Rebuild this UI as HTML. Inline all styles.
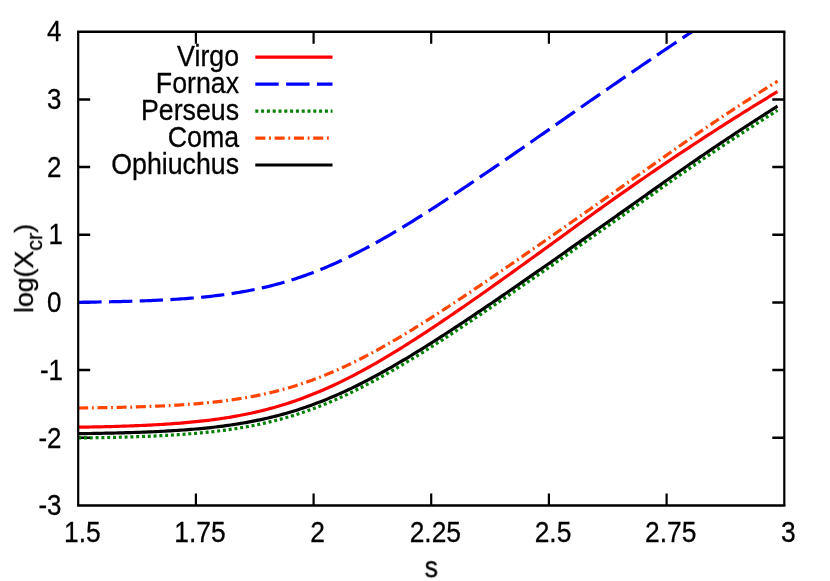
<!DOCTYPE html>
<html><head><meta charset="utf-8"><title>log(Xcr) vs s</title>
<style>
html,body{margin:0;padding:0;background:#fff;}
body{width:830px;height:581px;overflow:hidden;}
svg{display:block;transform:translateZ(0);will-change:transform;}
.t{filter:grayscale(1);}
text{font-family:"Liberation Sans",sans-serif;font-size:29.3px;fill:#000;stroke:#000;stroke-width:0.3px;}
.c{fill:none;stroke-width:3.2;stroke-linecap:butt;stroke-linejoin:round;}
</style></head><body>
<svg width="830" height="581" viewBox="0 0 830 581">
<rect width="830" height="581" fill="#fff"/>

<path d="M195.9,505.5 v-12 M195.9,31.7 v12 M313.6,505.5 v-12 M313.6,31.7 v12 M431.2,505.5 v-12 M431.2,31.7 v12 M548.9,505.5 v-12 M548.9,31.7 v12 M666.6,505.5 v-12 M666.6,31.7 v12" fill="none" stroke="#000" stroke-width="2.2"/>
<path d="M78.2,99.4 h12 M784.3,99.4 h-12 M78.2,167.1 h12 M784.3,167.1 h-12 M78.2,234.8 h12 M784.3,234.8 h-12 M78.2,302.4 h12 M784.3,302.4 h-12 M78.2,370.1 h12 M784.3,370.1 h-12 M78.2,437.8 h12 M784.3,437.8 h-12" fill="none" stroke="#000" stroke-width="2.5"/>
<defs><clipPath id="cp"><rect x="78.2" y="31.7" width="706.1" height="473.8"/></clipPath></defs>
<g clip-path="url(#cp)">
<path class="c" stroke="#ff0000" d="M78.2,427.22 L80.7,427.18 L83.2,427.13 L85.7,427.09 L88.2,427.05 L90.7,427.00 L93.2,426.95 L95.7,426.90 L98.2,426.85 L100.7,426.79 L103.2,426.73 L105.7,426.67 L108.2,426.61 L110.7,426.55 L113.2,426.48 L115.7,426.41 L118.2,426.33 L120.7,426.26 L123.2,426.18 L125.7,426.09 L128.2,426.01 L130.7,425.91 L133.2,425.82 L135.7,425.72 L138.2,425.62 L140.7,425.51 L143.2,425.40 L145.7,425.29 L148.2,425.17 L150.7,425.04 L153.2,424.91 L155.7,424.77 L158.2,424.63 L160.7,424.49 L163.2,424.33 L165.7,424.17 L168.2,424.01 L170.7,423.84 L173.2,423.66 L175.7,423.47 L178.2,423.28 L180.7,423.08 L183.2,422.87 L185.7,422.66 L188.2,422.43 L190.7,422.20 L193.2,421.96 L195.7,421.71 L198.2,421.45 L200.7,421.18 L203.2,420.90 L205.7,420.60 L208.2,420.30 L210.7,419.99 L213.2,419.67 L215.7,419.33 L218.2,418.99 L220.7,418.63 L223.2,418.26 L225.7,417.87 L228.2,417.47 L230.7,417.06 L233.2,416.64 L235.7,416.20 L238.2,415.74 L240.7,415.28 L243.2,414.79 L245.7,414.29 L248.2,413.78 L250.7,413.25 L253.2,412.70 L255.7,412.14 L258.2,411.56 L260.7,410.96 L263.2,410.34 L265.7,409.71 L268.2,409.06 L270.7,408.39 L273.2,407.70 L275.7,407.00 L278.2,406.27 L280.7,405.53 L283.2,404.77 L285.7,403.99 L288.2,403.19 L290.7,402.37 L293.2,401.53 L295.7,400.67 L298.2,399.79 L300.7,398.89 L303.2,397.97 L305.7,397.03 L308.2,396.07 L310.7,395.10 L313.2,394.10 L315.7,393.08 L318.2,392.05 L320.7,390.99 L323.2,389.92 L325.7,388.82 L328.2,387.71 L330.7,386.58 L333.2,385.43 L335.7,384.26 L338.2,383.07 L340.7,381.87 L343.2,380.65 L345.7,379.41 L348.2,378.15 L350.7,376.88 L353.2,375.59 L355.7,374.28 L358.2,372.96 L360.7,371.62 L363.2,370.26 L365.7,368.89 L368.2,367.51 L370.7,366.11 L373.2,364.70 L375.7,363.27 L378.2,361.83 L380.7,360.38 L383.2,358.91 L385.7,357.43 L388.2,355.94 L390.7,354.44 L393.2,352.92 L395.7,351.40 L398.2,349.86 L400.7,348.31 L403.2,346.75 L405.7,345.19 L408.2,343.61 L410.7,342.02 L413.2,340.42 L415.7,338.82 L418.2,337.20 L420.7,335.58 L423.2,333.95 L425.7,332.31 L428.2,330.67 L430.7,329.01 L433.2,327.35 L435.7,325.68 L438.2,324.01 L440.7,322.33 L443.2,320.64 L445.7,318.95 L448.2,317.25 L450.7,315.55 L453.2,313.84 L455.7,312.13 L458.2,310.41 L460.7,308.69 L463.2,306.96 L465.7,305.22 L468.2,303.49 L470.7,301.75 L473.2,300.00 L475.7,298.25 L478.2,296.50 L480.7,294.74 L483.2,292.99 L485.7,291.22 L488.2,289.46 L490.7,287.69 L493.2,285.92 L495.7,284.14 L498.2,282.37 L500.7,280.59 L503.2,278.81 L505.7,277.02 L508.2,275.23 L510.7,273.45 L513.2,271.65 L515.7,269.86 L518.2,268.07 L520.7,266.27 L523.2,264.47 L525.7,262.67 L528.2,260.87 L530.7,259.07 L533.2,257.26 L535.7,255.46 L538.2,253.65 L540.7,251.84 L543.2,250.03 L545.7,248.22 L548.2,246.41 L550.7,244.59 L553.2,242.78 L555.7,240.96 L558.2,239.14 L560.7,237.33 L563.2,235.51 L565.7,233.69 L568.2,231.87 L570.7,230.05 L573.2,228.22 L575.7,226.40 L578.2,224.58 L580.7,222.76 L583.2,220.94 L585.7,219.13 L588.2,217.32 L590.7,215.51 L593.2,213.71 L595.7,211.91 L598.2,210.12 L600.7,208.33 L603.2,206.54 L605.7,204.76 L608.2,202.98 L610.7,201.20 L613.2,199.43 L615.7,197.66 L618.2,195.89 L620.7,194.13 L623.2,192.38 L625.7,190.62 L628.2,188.87 L630.7,187.13 L633.2,185.38 L635.7,183.65 L638.2,181.91 L640.7,180.18 L643.2,178.45 L645.7,176.73 L648.2,175.01 L650.7,173.30 L653.2,171.59 L655.7,169.88 L658.2,168.18 L660.7,166.48 L663.2,164.78 L665.7,163.09 L668.2,161.40 L670.7,159.72 L673.2,158.04 L675.7,156.37 L678.2,154.70 L680.7,153.03 L683.2,151.37 L685.7,149.71 L688.2,148.05 L690.7,146.40 L693.2,144.75 L695.7,143.11 L698.2,141.47 L700.7,139.84 L703.2,138.21 L705.7,136.58 L708.2,134.96 L710.7,133.34 L713.2,131.73 L715.7,130.12 L718.2,128.51 L720.7,126.91 L723.2,125.31 L725.7,123.71 L728.2,122.12 L730.7,120.54 L733.2,118.96 L735.7,117.38 L738.2,115.81 L740.7,114.24 L743.2,112.67 L745.7,111.11 L748.2,109.55 L750.7,108.00 L753.2,106.45 L755.7,104.91 L758.2,103.36 L760.7,101.83 L763.2,100.30 L765.7,98.77 L768.2,97.24 L770.7,95.72 L773.2,94.21 L775.7,92.69 L777.5,91.61"/>
<path class="c" stroke="#0000ff" stroke-dasharray="23.4 7.35" d="M78.2,302.28 L80.7,302.25 L83.2,302.22 L85.7,302.19 L88.2,302.15 L90.7,302.12 L93.2,302.08 L95.7,302.04 L98.2,302.00 L100.7,301.96 L103.2,301.91 L105.7,301.86 L108.2,301.82 L110.7,301.76 L113.2,301.71 L115.7,301.66 L118.2,301.60 L120.7,301.54 L123.2,301.47 L125.7,301.41 L128.2,301.34 L130.7,301.26 L133.2,301.19 L135.7,301.11 L138.2,301.03 L140.7,300.94 L143.2,300.85 L145.7,300.76 L148.2,300.66 L150.7,300.56 L153.2,300.45 L155.7,300.34 L158.2,300.22 L160.7,300.10 L163.2,299.98 L165.7,299.85 L168.2,299.71 L170.7,299.57 L173.2,299.42 L175.7,299.26 L178.2,299.10 L180.7,298.93 L183.2,298.76 L185.7,298.57 L188.2,298.38 L190.7,298.19 L193.2,297.98 L195.7,297.76 L198.2,297.54 L200.7,297.31 L203.2,297.07 L205.7,296.82 L208.2,296.56 L210.7,296.29 L213.2,296.00 L215.7,295.71 L218.2,295.41 L220.7,295.09 L223.2,294.77 L225.7,294.43 L228.2,294.08 L230.7,293.71 L233.2,293.33 L235.7,292.94 L238.2,292.54 L240.7,292.12 L243.2,291.69 L245.7,291.24 L248.2,290.77 L250.7,290.29 L253.2,289.80 L255.7,289.29 L258.2,288.76 L260.7,288.21 L263.2,287.65 L265.7,287.07 L268.2,286.47 L270.7,285.86 L273.2,285.22 L275.7,284.57 L278.2,283.90 L280.7,283.21 L283.2,282.50 L285.7,281.78 L288.2,281.03 L290.7,280.26 L293.2,279.48 L295.7,278.67 L298.2,277.84 L300.7,277.00 L303.2,276.13 L305.7,275.25 L308.2,274.34 L310.7,273.42 L313.2,272.47 L315.7,271.51 L318.2,270.52 L320.7,269.52 L323.2,268.49 L325.7,267.45 L328.2,266.39 L330.7,265.31 L333.2,264.21 L335.7,263.09 L338.2,261.95 L340.7,260.80 L343.2,259.62 L345.7,258.43 L348.2,257.22 L350.7,256.00 L353.2,254.76 L355.7,253.50 L358.2,252.23 L360.7,250.94 L363.2,249.63 L365.7,248.31 L368.2,246.97 L370.7,245.62 L373.2,244.26 L375.7,242.88 L378.2,241.49 L380.7,240.08 L383.2,238.67 L385.7,237.24 L388.2,235.79 L390.7,234.34 L393.2,232.87 L395.7,231.40 L398.2,229.91 L400.7,228.41 L403.2,226.91 L405.7,225.39 L408.2,223.86 L410.7,222.33 L413.2,220.78 L415.7,219.23 L418.2,217.67 L420.7,216.10 L423.2,214.52 L425.7,212.93 L428.2,211.34 L430.7,209.74 L433.2,208.14 L435.7,206.53 L438.2,204.91 L440.7,203.28 L443.2,201.65 L445.7,200.02 L448.2,198.38 L450.7,196.73 L453.2,195.08 L455.7,193.42 L458.2,191.76 L460.7,190.10 L463.2,188.43 L465.7,186.76 L468.2,185.08 L470.7,183.40 L473.2,181.72 L475.7,180.03 L478.2,178.34 L480.7,176.64 L483.2,174.95 L485.7,173.25 L488.2,171.54 L490.7,169.84 L493.2,168.13 L495.7,166.42 L498.2,164.71 L500.7,162.99 L503.2,161.28 L505.7,159.56 L508.2,157.84 L510.7,156.11 L513.2,154.39 L515.7,152.66 L518.2,150.93 L520.7,149.20 L523.2,147.47 L525.7,145.74 L528.2,144.00 L530.7,142.27 L533.2,140.53 L535.7,138.79 L538.2,137.05 L540.7,135.31 L543.2,133.57 L545.7,131.83 L548.2,130.08 L550.7,128.34 L553.2,126.59 L555.7,124.85 L558.2,123.11 L560.7,121.37 L563.2,119.62 L565.7,117.88 L568.2,116.14 L570.7,114.41 L573.2,112.67 L575.7,110.93 L578.2,109.20 L580.7,107.47 L583.2,105.73 L585.7,104.00 L588.2,102.27 L590.7,100.54 L593.2,98.81 L595.7,97.09 L598.2,95.36 L600.7,93.64 L603.2,91.92 L605.7,90.20 L608.2,88.48 L610.7,86.76 L613.2,85.04 L615.7,83.33 L618.2,81.61 L620.7,79.90 L623.2,78.19 L625.7,76.48 L628.2,74.77 L630.7,73.06 L633.2,71.36 L635.7,69.66 L638.2,67.95 L640.7,66.25 L643.2,64.55 L645.7,62.86 L648.2,61.16 L650.7,59.47 L653.2,57.77 L655.7,56.08 L658.2,54.39 L660.7,52.70 L663.2,51.02 L665.7,49.33 L668.2,47.65 L670.7,45.97 L673.2,44.29 L675.7,42.61 L678.2,40.93 L680.7,39.25 L683.2,37.58 L685.7,35.91 L688.2,34.24 L690.7,32.57 L693.2,30.90 L695.7,29.24 L698.2,27.57 L700.0,26.38"/>
<path class="c" stroke="#008000" stroke-dasharray="3 2.8" d="M78.2,437.97 L80.7,437.94 L83.2,437.90 L85.7,437.87 L88.2,437.83 L90.7,437.79 L93.2,437.75 L95.7,437.71 L98.2,437.67 L100.7,437.62 L103.2,437.58 L105.7,437.53 L108.2,437.48 L110.7,437.42 L113.2,437.37 L115.7,437.31 L118.2,437.25 L120.7,437.18 L123.2,437.12 L125.7,437.05 L128.2,436.98 L130.7,436.90 L133.2,436.82 L135.7,436.74 L138.2,436.65 L140.7,436.57 L143.2,436.47 L145.7,436.38 L148.2,436.28 L150.7,436.17 L153.2,436.06 L155.7,435.95 L158.2,435.83 L160.7,435.71 L163.2,435.58 L165.7,435.44 L168.2,435.31 L170.7,435.16 L173.2,435.01 L175.7,434.85 L178.2,434.69 L180.7,434.52 L183.2,434.34 L185.7,434.16 L188.2,433.97 L190.7,433.77 L193.2,433.56 L195.7,433.35 L198.2,433.13 L200.7,432.90 L203.2,432.65 L205.7,432.41 L208.2,432.15 L210.7,431.88 L213.2,431.60 L215.7,431.31 L218.2,431.01 L220.7,430.70 L223.2,430.38 L225.7,430.04 L228.2,429.70 L230.7,429.34 L233.2,428.97 L235.7,428.58 L238.2,428.19 L240.7,427.78 L243.2,427.35 L245.7,426.91 L248.2,426.46 L250.7,425.99 L253.2,425.51 L255.7,425.01 L258.2,424.49 L260.7,423.96 L263.2,423.42 L265.7,422.85 L268.2,422.27 L270.7,421.67 L273.2,421.06 L275.7,420.43 L278.2,419.78 L280.7,419.11 L283.2,418.42 L285.7,417.72 L288.2,416.99 L290.7,416.25 L293.2,415.49 L295.7,414.71 L298.2,413.91 L300.7,413.09 L303.2,412.25 L305.7,411.39 L308.2,410.52 L310.7,409.62 L313.2,408.71 L315.7,407.77 L318.2,406.82 L320.7,405.85 L323.2,404.85 L325.7,403.84 L328.2,402.81 L330.7,401.76 L333.2,400.70 L335.7,399.61 L338.2,398.51 L340.7,397.39 L343.2,396.25 L345.7,395.09 L348.2,393.91 L350.7,392.72 L353.2,391.51 L355.7,390.29 L358.2,389.05 L360.7,387.79 L363.2,386.51 L365.7,385.22 L368.2,383.92 L370.7,382.60 L373.2,381.27 L375.7,379.92 L378.2,378.56 L380.7,377.18 L383.2,375.79 L385.7,374.39 L388.2,372.97 L390.7,371.55 L393.2,370.11 L395.7,368.66 L398.2,367.20 L400.7,365.72 L403.2,364.24 L405.7,362.74 L408.2,361.24 L410.7,359.73 L413.2,358.20 L415.7,356.67 L418.2,355.13 L420.7,353.58 L423.2,352.02 L425.7,350.45 L428.2,348.88 L430.7,347.29 L433.2,345.70 L435.7,344.11 L438.2,342.50 L440.7,340.89 L443.2,339.28 L445.7,337.65 L448.2,336.02 L450.7,334.39 L453.2,332.75 L455.7,331.11 L458.2,329.46 L460.7,327.80 L463.2,326.14 L465.7,324.48 L468.2,322.81 L470.7,321.13 L473.2,319.46 L475.7,317.78 L478.2,316.09 L480.7,314.40 L483.2,312.71 L485.7,311.01 L488.2,309.32 L490.7,307.61 L493.2,305.91 L495.7,304.20 L498.2,302.49 L500.7,300.78 L503.2,299.06 L505.7,297.35 L508.2,295.63 L510.7,293.90 L513.2,292.18 L515.7,290.45 L518.2,288.72 L520.7,286.99 L523.2,285.26 L525.7,283.53 L528.2,281.79 L530.7,280.06 L533.2,278.32 L535.7,276.58 L538.2,274.83 L540.7,273.09 L543.2,271.35 L545.7,269.60 L548.2,267.86 L550.7,266.11 L553.2,264.36 L555.7,262.61 L558.2,260.86 L560.7,259.11 L563.2,257.35 L565.7,255.60 L568.2,253.84 L570.7,252.09 L573.2,250.33 L575.7,248.58 L578.2,246.82 L580.7,245.06 L583.2,243.30 L585.7,241.54 L588.2,239.78 L590.7,238.02 L593.2,236.26 L595.7,234.50 L598.2,232.73 L600.7,230.97 L603.2,229.21 L605.7,227.44 L608.2,225.68 L610.7,223.91 L613.2,222.15 L615.7,220.38 L618.2,218.62 L620.7,216.85 L623.2,215.08 L625.7,213.32 L628.2,211.55 L630.7,209.78 L633.2,208.01 L635.7,206.25 L638.2,204.48 L640.7,202.71 L643.2,200.94 L645.7,199.17 L648.2,197.40 L650.7,195.63 L653.2,193.86 L655.7,192.09 L658.2,190.32 L660.7,188.55 L663.2,186.79 L665.7,185.02 L668.2,183.26 L670.7,181.51 L673.2,179.76 L675.7,178.01 L678.2,176.27 L680.7,174.53 L683.2,172.79 L685.7,171.06 L688.2,169.33 L690.7,167.61 L693.2,165.89 L695.7,164.18 L698.2,162.46 L700.7,160.76 L703.2,159.05 L705.7,157.35 L708.2,155.66 L710.7,153.97 L713.2,152.28 L715.7,150.60 L718.2,148.92 L720.7,147.25 L723.2,145.58 L725.7,143.91 L728.2,142.25 L730.7,140.59 L733.2,138.94 L735.7,137.29 L738.2,135.64 L740.7,134.00 L743.2,132.36 L745.7,130.73 L748.2,129.10 L750.7,127.47 L753.2,125.85 L755.7,124.23 L758.2,122.62 L760.7,121.01 L763.2,119.41 L765.7,117.81 L768.2,116.21 L770.7,114.62 L773.2,113.03 L775.7,111.44 L777.5,110.31"/>
<path class="c" stroke="#ff4500" stroke-dasharray="10 3.7 1.82 3.7" d="M78.2,408.02 L80.7,407.99 L83.2,407.96 L85.7,407.93 L88.2,407.90 L90.7,407.87 L93.2,407.83 L95.7,407.79 L98.2,407.76 L100.7,407.72 L103.2,407.67 L105.7,407.63 L108.2,407.58 L110.7,407.54 L113.2,407.49 L115.7,407.44 L118.2,407.38 L120.7,407.32 L123.2,407.27 L125.7,407.20 L128.2,407.14 L130.7,407.07 L133.2,407.00 L135.7,406.93 L138.2,406.85 L140.7,406.77 L143.2,406.69 L145.7,406.60 L148.2,406.51 L150.7,406.41 L153.2,406.31 L155.7,406.21 L158.2,406.10 L160.7,405.99 L163.2,405.87 L165.7,405.75 L168.2,405.62 L170.7,405.49 L173.2,405.35 L175.7,405.20 L178.2,405.05 L180.7,404.90 L183.2,404.73 L185.7,404.56 L188.2,404.38 L190.7,404.20 L193.2,404.01 L195.7,403.80 L198.2,403.60 L200.7,403.38 L203.2,403.15 L205.7,402.92 L208.2,402.67 L210.7,402.42 L213.2,402.16 L215.7,401.88 L218.2,401.60 L220.7,401.30 L223.2,400.99 L225.7,400.67 L228.2,400.34 L230.7,400.00 L233.2,399.65 L235.7,399.28 L238.2,398.90 L240.7,398.50 L243.2,398.09 L245.7,397.67 L248.2,397.23 L250.7,396.77 L253.2,396.31 L255.7,395.82 L258.2,395.32 L260.7,394.80 L263.2,394.27 L265.7,393.72 L268.2,393.15 L270.7,392.57 L273.2,391.96 L275.7,391.34 L278.2,390.70 L280.7,390.04 L283.2,389.37 L285.7,388.67 L288.2,387.96 L290.7,387.22 L293.2,386.47 L295.7,385.70 L298.2,384.90 L300.7,384.09 L303.2,383.26 L305.7,382.41 L308.2,381.54 L310.7,380.64 L313.2,379.73 L315.7,378.80 L318.2,377.85 L320.7,376.88 L323.2,375.89 L325.7,374.88 L328.2,373.85 L330.7,372.80 L333.2,371.73 L335.7,370.64 L338.2,369.53 L340.7,368.41 L343.2,367.27 L345.7,366.10 L348.2,364.92 L350.7,363.73 L353.2,362.51 L355.7,361.28 L358.2,360.03 L360.7,358.77 L363.2,357.49 L365.7,356.19 L368.2,354.88 L370.7,353.56 L373.2,352.21 L375.7,350.86 L378.2,349.49 L380.7,348.10 L383.2,346.71 L385.7,345.30 L388.2,343.87 L390.7,342.44 L393.2,340.99 L395.7,339.53 L398.2,338.06 L400.7,336.58 L403.2,335.09 L405.7,333.59 L408.2,332.07 L410.7,330.55 L413.2,329.02 L415.7,327.48 L418.2,325.93 L420.7,324.37 L423.2,322.80 L425.7,321.23 L428.2,319.65 L430.7,318.06 L433.2,316.46 L435.7,314.86 L438.2,313.25 L440.7,311.63 L443.2,310.01 L445.7,308.38 L448.2,306.75 L450.7,305.11 L453.2,303.46 L455.7,301.81 L458.2,300.16 L460.7,298.50 L463.2,296.83 L465.7,295.16 L468.2,293.49 L470.7,291.81 L473.2,290.13 L475.7,288.45 L478.2,286.76 L480.7,285.07 L483.2,283.37 L485.7,281.68 L488.2,279.97 L490.7,278.27 L493.2,276.56 L495.7,274.86 L498.2,273.14 L500.7,271.43 L503.2,269.71 L505.7,267.99 L508.2,266.27 L510.7,264.55 L513.2,262.83 L515.7,261.10 L518.2,259.37 L520.7,257.64 L523.2,255.91 L525.7,254.17 L528.2,252.44 L530.7,250.70 L533.2,248.96 L535.7,247.22 L538.2,245.48 L540.7,243.74 L543.2,242.00 L545.7,240.25 L548.2,238.51 L550.7,236.76 L553.2,235.01 L555.7,233.27 L558.2,231.52 L560.7,229.77 L563.2,228.02 L565.7,226.26 L568.2,224.51 L570.7,222.76 L573.2,221.00 L575.7,219.25 L578.2,217.50 L580.7,215.74 L583.2,213.98 L585.7,212.23 L588.2,210.47 L590.7,208.71 L593.2,206.95 L595.7,205.19 L598.2,203.43 L600.7,201.67 L603.2,199.91 L605.7,198.15 L608.2,196.39 L610.7,194.63 L613.2,192.87 L615.7,191.11 L618.2,189.35 L620.7,187.58 L623.2,185.82 L625.7,184.06 L628.2,182.29 L630.7,180.53 L633.2,178.77 L635.7,177.00 L638.2,175.24 L640.7,173.47 L643.2,171.71 L645.7,169.94 L648.2,168.18 L650.7,166.41 L653.2,164.65 L655.7,162.88 L658.2,161.12 L660.7,159.35 L663.2,157.58 L665.7,155.82 L668.2,154.05 L670.7,152.29 L673.2,150.52 L675.7,148.76 L678.2,147.00 L680.7,145.24 L683.2,143.49 L685.7,141.75 L688.2,140.01 L690.7,138.28 L693.2,136.55 L695.7,134.83 L698.2,133.11 L700.7,131.40 L703.2,129.69 L705.7,127.98 L708.2,126.28 L710.7,124.59 L713.2,122.90 L715.7,121.22 L718.2,119.54 L720.7,117.87 L723.2,116.20 L725.7,114.53 L728.2,112.88 L730.7,111.22 L733.2,109.57 L735.7,107.93 L738.2,106.29 L740.7,104.66 L743.2,103.03 L745.7,101.41 L748.2,99.79 L750.7,98.18 L753.2,96.57 L755.7,94.97 L758.2,93.37 L760.7,91.77 L763.2,90.19 L765.7,88.60 L768.2,87.03 L770.7,85.45 L773.2,83.88 L775.7,82.32 L777.5,81.20"/>
<path class="c" stroke="#000000" d="M78.2,433.66 L80.7,433.62 L83.2,433.59 L85.7,433.55 L88.2,433.52 L90.7,433.48 L93.2,433.44 L95.7,433.40 L98.2,433.35 L100.7,433.31 L103.2,433.26 L105.7,433.21 L108.2,433.16 L110.7,433.10 L113.2,433.04 L115.7,432.99 L118.2,432.92 L120.7,432.86 L123.2,432.79 L125.7,432.72 L128.2,432.65 L130.7,432.57 L133.2,432.49 L135.7,432.41 L138.2,432.33 L140.7,432.24 L143.2,432.14 L145.7,432.05 L148.2,431.94 L150.7,431.84 L153.2,431.73 L155.7,431.62 L158.2,431.50 L160.7,431.37 L163.2,431.24 L165.7,431.11 L168.2,430.97 L170.7,430.82 L173.2,430.67 L175.7,430.51 L178.2,430.35 L180.7,430.18 L183.2,430.00 L185.7,429.82 L188.2,429.63 L190.7,429.43 L193.2,429.22 L195.7,429.01 L198.2,428.79 L200.7,428.55 L203.2,428.31 L205.7,428.06 L208.2,427.81 L210.7,427.54 L213.2,427.26 L215.7,426.97 L218.2,426.67 L220.7,426.36 L223.2,426.04 L225.7,425.70 L228.2,425.36 L230.7,425.00 L233.2,424.63 L235.7,424.25 L238.2,423.85 L240.7,423.45 L243.2,423.02 L245.7,422.59 L248.2,422.13 L250.7,421.67 L253.2,421.19 L255.7,420.69 L258.2,420.18 L260.7,419.65 L263.2,419.11 L265.7,418.55 L268.2,417.97 L270.7,417.38 L273.2,416.76 L275.7,416.13 L278.2,415.49 L280.7,414.82 L283.2,414.14 L285.7,413.44 L288.2,412.72 L290.7,411.98 L293.2,411.23 L295.7,410.45 L298.2,409.66 L300.7,408.84 L303.2,408.01 L305.7,407.16 L308.2,406.29 L310.7,405.40 L313.2,404.49 L315.7,403.56 L318.2,402.62 L320.7,401.65 L323.2,400.66 L325.7,399.66 L328.2,398.64 L330.7,397.59 L333.2,396.53 L335.7,395.46 L338.2,394.36 L340.7,393.24 L343.2,392.11 L345.7,390.96 L348.2,389.79 L350.7,388.61 L353.2,387.40 L355.7,386.19 L358.2,384.95 L360.7,383.70 L363.2,382.43 L365.7,381.15 L368.2,379.85 L370.7,378.54 L373.2,377.21 L375.7,375.87 L378.2,374.51 L380.7,373.14 L383.2,371.76 L385.7,370.36 L388.2,368.96 L390.7,367.53 L393.2,366.10 L395.7,364.66 L398.2,363.20 L400.7,361.73 L403.2,360.25 L405.7,358.76 L408.2,357.26 L410.7,355.75 L413.2,354.23 L415.7,352.71 L418.2,351.17 L420.7,349.62 L423.2,348.07 L425.7,346.50 L428.2,344.93 L430.7,343.35 L433.2,341.77 L435.7,340.17 L438.2,338.57 L440.7,336.97 L443.2,335.35 L445.7,333.73 L448.2,332.11 L450.7,330.47 L453.2,328.84 L455.7,327.19 L458.2,325.54 L460.7,323.89 L463.2,322.23 L465.7,320.57 L468.2,318.90 L470.7,317.23 L473.2,315.56 L475.7,313.88 L478.2,312.19 L480.7,310.50 L483.2,308.81 L485.7,307.12 L488.2,305.42 L490.7,303.72 L493.2,302.02 L495.7,300.31 L498.2,298.60 L500.7,296.89 L503.2,295.17 L505.7,293.45 L508.2,291.73 L510.7,290.01 L513.2,288.29 L515.7,286.56 L518.2,284.83 L520.7,283.10 L523.2,281.37 L525.7,279.63 L528.2,277.90 L530.7,276.16 L533.2,274.42 L535.7,272.68 L538.2,270.93 L540.7,269.19 L543.2,267.45 L545.7,265.70 L548.2,263.95 L550.7,262.20 L553.2,260.45 L555.7,258.70 L558.2,256.95 L560.7,255.19 L563.2,253.44 L565.7,251.69 L568.2,249.93 L570.7,248.17 L573.2,246.41 L575.7,244.66 L578.2,242.90 L580.7,241.14 L583.2,239.38 L585.7,237.61 L588.2,235.85 L590.7,234.09 L593.2,232.33 L595.7,230.56 L598.2,228.80 L600.7,227.03 L603.2,225.27 L605.7,223.50 L608.2,221.74 L610.7,219.97 L613.2,218.20 L615.7,216.44 L618.2,214.67 L620.7,212.90 L623.2,211.13 L625.7,209.36 L628.2,207.59 L630.7,205.82 L633.2,204.05 L635.7,202.28 L638.2,200.51 L640.7,198.74 L643.2,196.97 L645.7,195.20 L648.2,193.43 L650.7,191.66 L653.2,189.89 L655.7,188.11 L658.2,186.34 L660.7,184.57 L663.2,182.80 L665.7,181.02 L668.2,179.26 L670.7,177.49 L673.2,175.73 L675.7,173.98 L678.2,172.23 L680.7,170.48 L683.2,168.74 L685.7,167.00 L688.2,165.27 L690.7,163.54 L693.2,161.82 L695.7,160.10 L698.2,158.38 L700.7,156.67 L703.2,154.96 L705.7,153.26 L708.2,151.56 L710.7,149.87 L713.2,148.18 L715.7,146.49 L718.2,144.81 L720.7,143.13 L723.2,141.46 L725.7,139.79 L728.2,138.13 L730.7,136.47 L733.2,134.81 L735.7,133.16 L738.2,131.52 L740.7,129.87 L743.2,128.24 L745.7,126.60 L748.2,124.97 L750.7,123.35 L753.2,121.73 L755.7,120.11 L758.2,118.50 L760.7,116.90 L763.2,115.29 L765.7,113.70 L768.2,112.10 L770.7,110.51 L773.2,108.93 L775.7,107.35 L777.5,106.21"/>
</g>
<path class="c" stroke="#ff0000" d="M255.3,57.1 H332.5"/>
<path class="c" stroke="#0000ff" stroke-dasharray="23.4 7.4" d="M255.3,84.1 H332.5"/>
<path class="c" stroke="#008000" stroke-dasharray="3 2.8" d="M255.3,111.1 H332.5"/>
<path class="c" stroke="#ff4500" stroke-dasharray="10.05 3.7 1.85 3.7" d="M255.3,138.1 H332.5"/>
<path class="c" stroke="#000000" d="M255.3,165.0 H332.5"/>
<path d="M77.10000000000001,31.7 H785.4 M77.10000000000001,505.5 H785.4" fill="none" stroke="#000" stroke-width="2.6"/>
<path d="M78.2,31.7 V505.5 M784.3,31.7 V505.5" fill="none" stroke="#000" stroke-width="2.2"/>
<g class="t">
<text transform="translate(239.00,66.20) scale(0.912,1)" text-anchor="end">Virgo</text>
<text transform="translate(239.00,93.20) scale(0.912,1)" text-anchor="end">Fornax</text>
<text transform="translate(239.00,120.20) scale(0.912,1)" text-anchor="end">Perseus</text>
<text transform="translate(239.00,147.20) scale(0.912,1)" text-anchor="end">Coma</text>
<text transform="translate(239.00,174.10) scale(0.912,1)" text-anchor="end">Ophiuchus</text>
<text transform="translate(82.30,541.80) scale(0.9,1)" text-anchor="middle">1.5</text>
<text transform="translate(199.98,541.80) scale(0.9,1)" text-anchor="middle">1.75</text>
<text transform="translate(317.67,541.80) scale(0.9,1)" text-anchor="middle">2</text>
<text transform="translate(435.35,541.80) scale(0.9,1)" text-anchor="middle">2.25</text>
<text transform="translate(553.03,541.80) scale(0.9,1)" text-anchor="middle">2.5</text>
<text transform="translate(670.72,541.80) scale(0.9,1)" text-anchor="middle">2.75</text>
<text transform="translate(788.40,541.80) scale(0.9,1)" text-anchor="middle">3</text>
<text transform="translate(61.50,41.40) scale(0.885,1)" text-anchor="end">4</text>
<text transform="translate(61.50,109.09) scale(0.885,1)" text-anchor="end">3</text>
<text transform="translate(61.50,176.77) scale(0.885,1)" text-anchor="end">2</text>
<text transform="translate(63.00,244.46) scale(0.885,1)" text-anchor="end">1</text>
<text transform="translate(61.50,312.14) scale(0.885,1)" text-anchor="end">0</text>
<text transform="translate(63.00,379.83) scale(0.885,1)" text-anchor="end">-1</text>
<text transform="translate(61.50,447.51) scale(0.885,1)" text-anchor="end">-2</text>
<text transform="translate(61.50,515.20) scale(0.885,1)" text-anchor="end">-3</text>
<text transform="translate(431.20,577.20) scale(0.912,1)" text-anchor="middle">s</text>
<text transform="translate(33,268.5) rotate(-90)" text-anchor="middle" style="font-size:26.7px">log(X<tspan style="font-size:21.4px" dy="9">cr</tspan><tspan dy="-9">)</tspan></text>
</g>
</svg></body></html>
